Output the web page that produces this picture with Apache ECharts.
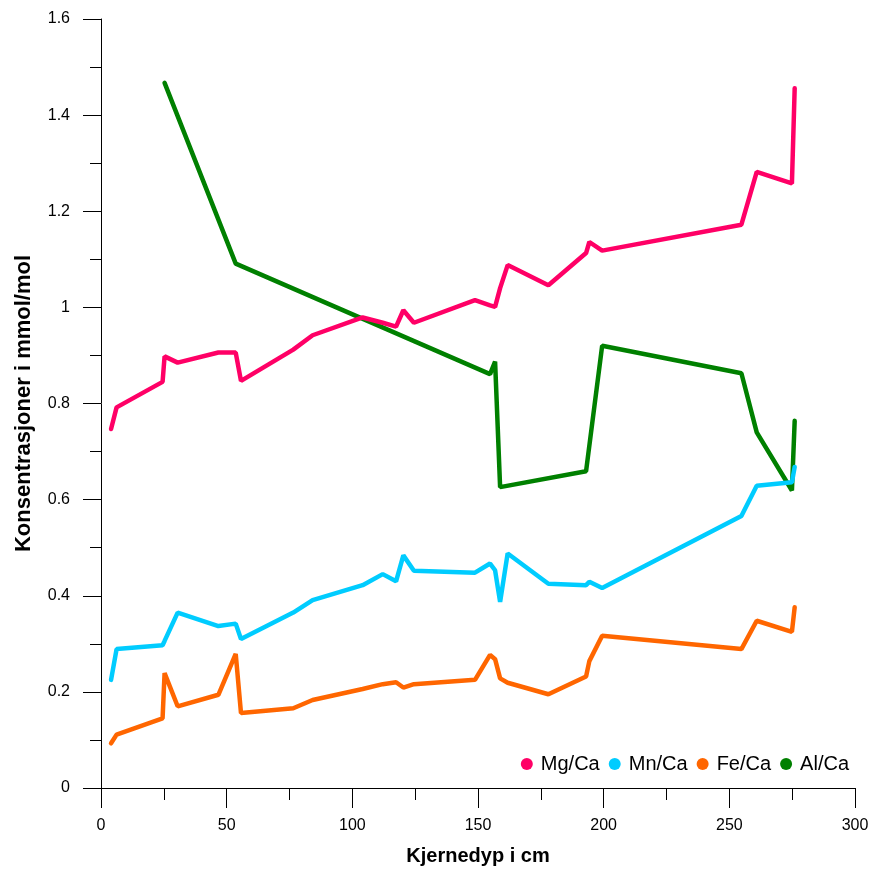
<!DOCTYPE html>
<html>
<head>
<meta charset="utf-8">
<script src="https://cdn.jsdelivr.net/npm/echarts@6/dist/echarts.min.js"></script>
<style>html,body{margin:0;padding:0;background:#fff;}#chart{width:879px;height:871px;}</style>
</head>
<body>
<div id="chart"></div>
<script>
// Depths (cm) shared by Mg/Ca, Mn/Ca, Fe/Ca
var depth = [4, 6.2, 24.5, 25.3, 30.5, 46.7, 53.6, 55.7, 76.5, 84.2, 104.1, 112.1, 117.4, 120.3, 124.5, 148.8, 154.8, 156.8, 158.8, 161.8, 178, 193, 194.3, 199.4, 254.8, 260.9, 274.9, 276];
var mgCa = [0.747, 0.792, 0.845, 0.898, 0.885, 0.906, 0.906, 0.847, 0.912, 0.942, 0.979, 0.968, 0.960, 0.994, 0.968, 1.015, 1.004, 1.001, 1.040, 1.088, 1.046, 1.113, 1.136, 1.118, 1.172, 1.282, 1.258, 1.456];
var mnCa = [0.225, 0.289, 0.297, 0.306, 0.365, 0.337, 0.342, 0.310, 0.365, 0.391, 0.422, 0.445, 0.430, 0.484, 0.452, 0.448, 0.467, 0.453, 0.387, 0.488, 0.425, 0.422, 0.429, 0.416, 0.566, 0.629, 0.636, 0.668];
var feCa = [0.093, 0.111, 0.145, 0.239, 0.170, 0.194, 0.279, 0.156, 0.166, 0.183, 0.206, 0.216, 0.220, 0.209, 0.216, 0.225, 0.277, 0.268, 0.228, 0.219, 0.195, 0.232, 0.264, 0.317, 0.289, 0.348, 0.325, 0.376];
// Al/Ca has its own depths
var depthAl = [25.3, 53.6, 154.8, 156.8, 158.8, 193, 199.4, 254.8, 260.9, 274.9, 276];
var alCa = [1.467, 1.091, 0.861, 0.887, 0.626, 0.659, 0.920, 0.863, 0.740, 0.619, 0.764];

var seriesNames = ['Mg/Ca', 'Mn/Ca', 'Fe/Ca', 'Al/Ca'];
var colors = ['#FF0066', '#00CCFF', '#FF6600', '#008000'];

function pairs(xs, ys) { return xs.map(function (x, i) { return [x, ys[i]]; }); }

var chart = echarts.init(document.getElementById('chart'));
var baseFont = 'Liberation Sans, Arial, sans-serif';
var narrowFont = '"Liberation Sans Narrow", "Arial Narrow", Liberation Sans, sans-serif';

function mk(name, data, color, z) {
  return {
    name: name, type: 'line', data: data, showSymbol: false, symbol: 'circle', z: z,
    lineStyle: { color: color, width: 4.5, cap: 'round' },
    itemStyle: { color: color },
    animation: false
  };
}

chart.setOption({
  animation: false,
  grid: { left: 101, right: 24, top: 19, bottom: 81 },
  legend: {
    data: seriesNames,
    right: 25, top: 749,
    icon: 'circle', itemWidth: 12, itemHeight: 12, itemGap: 9,
    textStyle: { fontFamily: baseFont, fontSize: 20, color: '#000', padding: [0, 0, 0, 3] }
  },
  xAxis: {
    type: 'value', min: 0, max: 300, interval: 50,
    name: 'Kjernedyp i cm', nameLocation: 'middle', nameGap: 58,
    nameTextStyle: { fontFamily: narrowFont, fontWeight: 'bold', fontSize: 20, color: '#000' },
    axisLine: { show: true, onZero: false, lineStyle: { color: '#000', width: 1 } },
    axisTick: { show: true, inside: false, length: 20, lineStyle: { color: '#000' } },
    minorTick: { show: true, splitNumber: 2, length: 12, lineStyle: { color: '#000' } },
    splitLine: { show: false },
    axisLabel: { margin: 30, fontFamily: narrowFont, fontSize: 16, color: '#000' }
  },
  yAxis: {
    type: 'value', min: 0, max: 1.6, interval: 0.2,
    name: 'Konsentrasjoner i mmol/mol', nameLocation: 'middle', nameGap: 66,
    nameTextStyle: { fontFamily: narrowFont, fontWeight: 'bold', fontSize: 22, color: '#000' },
    axisLine: { show: true, lineStyle: { color: '#000', width: 1 } },
    axisTick: { show: true, inside: false, length: 18, lineStyle: { color: '#000' } },
    minorTick: { show: true, splitNumber: 2, length: 11, lineStyle: { color: '#000' } },
    splitLine: { show: false },
    axisLabel: { margin: 31, fontFamily: baseFont, fontSize: 16, color: '#000' }
  },
  series: [
    mk('Mg/Ca', pairs(depth, mgCa), colors[0], 3),
    mk('Mn/Ca', pairs(depth, mnCa), colors[1], 3),
    mk('Fe/Ca', pairs(depth, feCa), colors[2], 3),
    mk('Al/Ca', pairs(depthAl, alCa), colors[3], 2)
  ]
});
</script>
</body>
</html>
